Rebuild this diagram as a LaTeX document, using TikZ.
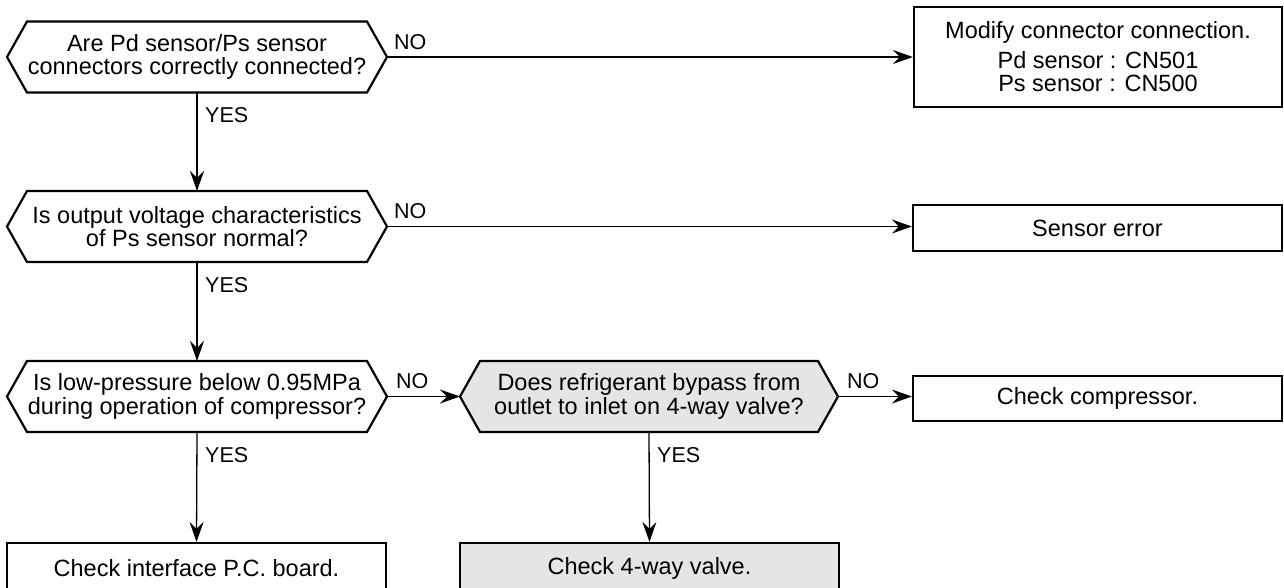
\documentclass[tikz,border=0pt]{standalone}
\usepackage{fontspec}
\setmainfont{Liberation Sans}
\usetikzlibrary{arrows.meta,calc,backgrounds}
\definecolor{panel}{gray}{0.9}
% hexagonal decision frame drawn around a text node
\newcommand\hexframe[2]{%
  \draw[hexline,fill=#2] (#1.west) -- ([xshift=20pt]#1.north west)
    -- ([xshift=-20pt]#1.north east) -- (#1.east)
    -- ([xshift=-20pt]#1.south east) -- ([xshift=20pt]#1.south west) -- cycle;}
\begin{document}
\begin{tikzpicture}[x=1pt,y=-1pt,
  txt/.style={font=\fontsize{23.5}{23.5}\selectfont, align=center, inner sep=0pt, outer sep=0pt},
  query/.style={txt, minimum height=71pt, minimum width=#1},
  query/.default=380pt,
  result/.style={txt, draw, line width=2.2pt, outer sep=1.1pt, minimum width=369pt},
  hexline/.style={line width=2.2pt, line join=miter},
  flow/.style={line width=1.3pt, -{Stealth[length=20pt,width=14pt,inset=7pt]}},
  tag/.style={font=\fontsize{21.5}{24}\selectfont, inner sep=0pt, anchor=base west}]
\useasboundingbox (0,0) rectangle (1284,587);

% decisions
\node[query] (h1) at (197,57) {Are Pd sensor/Ps sensor\\connectors correctly connected?};
\node[query] (h2) at (197,226.5) {Is output voltage characteristics\\of Ps sensor normal?};
\node[query] (h3) at (197,396.5) {Is low-pressure below 0.95MPa\\during operation of compressor?};
\node[query=378pt] (h4) at (649,396.5) {Does refrigerant bypass from\\outlet to inlet on 4-way valve?};

\begin{scope}[on background layer]
  \hexframe{h1}{white}
  \hexframe{h2}{white}
  \hexframe{h3}{white}
  \hexframe{h4}{panel}
\end{scope}

% results
\node[result, minimum width=368pt, minimum height=100pt] (m1) at (1098,57)
  {Modify connector connection.\\[6pt]Pd sensor : CN501\\Ps sensor : CN500};
\node[result, minimum height=46pt] (m2) at (1097.5,228) {Sensor error};
\node[result, minimum height=45pt] (m3) at (1097.5,398.5) {Check compressor.};
\node[result, minimum width=379pt, minimum height=50pt] (b1) at (196.5,568) {Check interface P.C. board.};
\node[result, minimum width=379pt, minimum height=50pt, fill=panel] (b2) at (649.5,568) {Check 4-way valve.};

% connectors
\draw[flow] (h1.east) -- (h1.east -| m1.west);
\draw[flow] (h1.south) -- (h2.north);
\draw[flow] (h2.east) -- (h2.east -| m2.west);
\draw[flow] (h2.south) -- (h3.north);
\draw[flow] (h3.east) -- (h4.west);
\draw[flow] (h4.east) -- (h4.east -| m3.west);
\draw[flow] (h3.south) -- (b1.north);
\draw[flow] (h4.south) -- (b2.north);

% branch labels
\node[tag] (n1) at ($(h1.east)+(7,-8)$) {NO};
\node[tag] (n2) at ($(h2.east)+(7,-8)$) {NO};
\node[tag] (n3) at ($(h3.east)+(9,-8)$) {NO};
\node[tag] (n4) at ($(h4.east)+(9,-8)$) {NO};
\node[tag] (y1) at ($(h1.south)+(8,30)$) {YES};
\node[tag] (y2) at ($(h2.south)+(8,30)$) {YES};
\node[tag] (y3) at ($(h3.south)+(8,30)$) {YES};
\node[tag] (y4) at ($(h4.south)+(8,30)$) {YES};
\end{tikzpicture}
\end{document}
